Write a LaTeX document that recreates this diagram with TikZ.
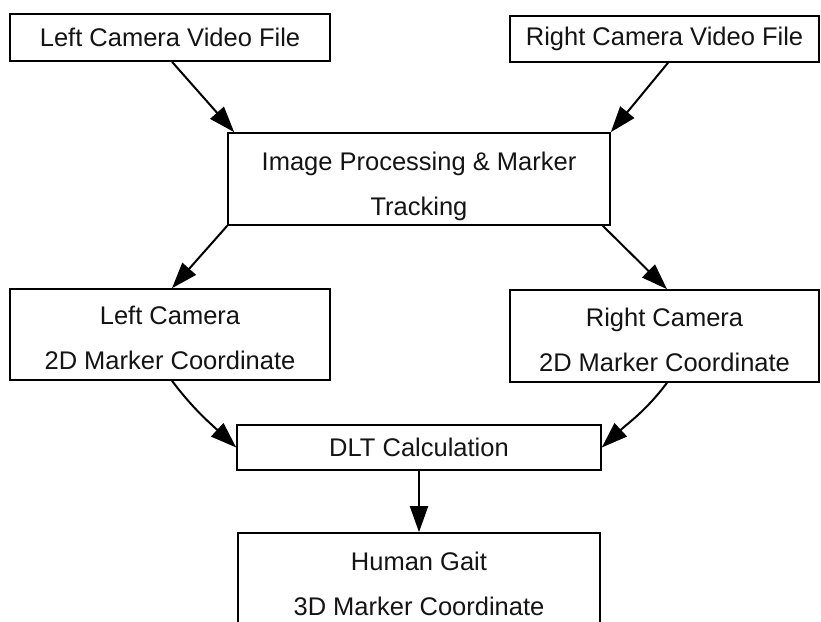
\documentclass[tikz,border=0pt]{standalone}
\usepackage{fontspec}
\setmainfont{Liberation Sans}
\usetikzlibrary{arrows.meta,calc}
\begin{document}
\begin{tikzpicture}[x=1pt,y=1pt,
  box/.style={draw=black, line width=1.6pt, inner sep=0pt, align=center,
    font=\fontsize{25.5}{45}\selectfont, text=black!92},
  flow/.style={draw=black, line width=2pt, -{Triangle[length=26pt,width=18pt]}}]
  % page frame, everything outside it is cut away
  \clip (0,0) rectangle (821,621);
  \fill[white] (0,0) rectangle (821,621);

  % boxes
  \node[box, minimum width=320pt, minimum height=47pt] (lvf) at (170,583.5) {Left Camera Video File};
  \node[box, minimum width=309pt, minimum height=46pt] (rvf) at (664.5,582) {Right Camera Video File};
  \node[box, minimum width=382pt, minimum height=92pt] (img) at (419,442) {\rule{0pt}{33pt}Image Processing \& Marker\\Tracking};
  \node[box, minimum width=320pt, minimum height=91pt] (l2d) at (170,286.5) {\rule{0pt}{26pt}Left Camera\\2D Marker Coordinate};
  \node[box, minimum width=309pt, minimum height=92pt] (r2d) at (664.5,285) {\rule{0pt}{26pt}Right Camera\\2D Marker Coordinate};
  \node[box, minimum width=364pt, minimum height=45pt] (dlt) at (419,173.5) {DLT Calculation};
  \node[box, minimum width=362pt, minimum height=101pt] (gait) at (419,37.5) {Human Gait\\3D Marker Coordinate};

  % connectors
  \draw[flow] ($(lvf.south)+(2,0)$) -- ($(img.north west)+(7,0)$);
  \draw[flow] ($(rvf.south)+(3.5,0)$) -- (img.north east);
  \draw[flow] (img.south west) -- ($(l2d.north)+(2,0)$);
  \draw[flow] ($(img.south east)+(-8,0)$) -- ($(r2d.north)+(2.5,0)$);
  \draw[flow] ($(l2d.south)+(2,0)$) to[out=-53,in=137] (dlt.west);
  \draw[flow] ($(r2d.south)+(2.5,0)$) to[out=-127,in=43] (dlt.east);
  \draw[flow] (dlt.south) -- (gait.north);
\end{tikzpicture}
\end{document}
